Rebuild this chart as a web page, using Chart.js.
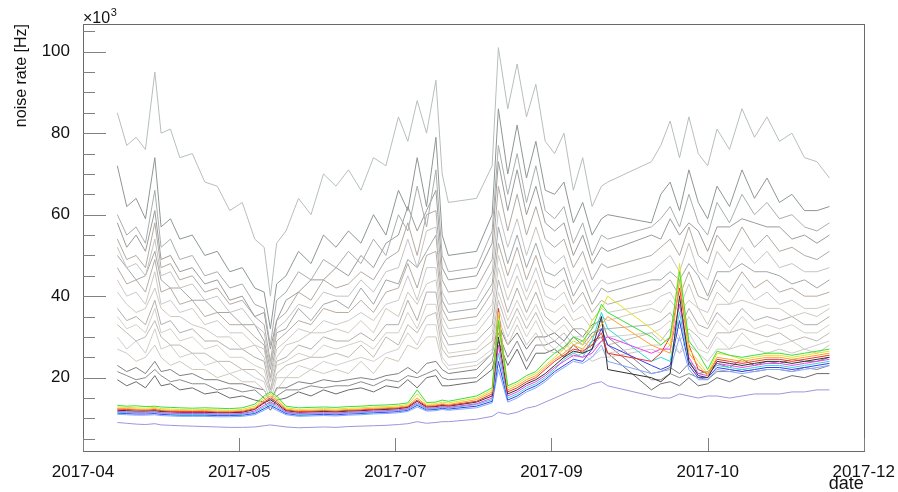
<!DOCTYPE html>
<html>
<head>
<meta charset="utf-8">
<title>noise rate vs date</title>
<script src="https://cdn.jsdelivr.net/npm/chart.js@4"></script>
<style>
  html, body { margin: 0; padding: 0; background: #fff; }
  canvas { display: block; }
</style>
</head>
<body>
<canvas id="c" width="898" height="492"></canvas>
<script>
// Sampling dates (UTC days)
const dates = [
  '2017-04-19','2017-04-22','2017-04-25','2017-04-28','2017-05-01',
  '2017-05-03','2017-05-06','2017-05-09','2017-05-13','2017-05-17',
  '2017-05-21','2017-05-25','2017-05-29','2017-06-02','2017-06-05',
  '2017-06-07','2017-06-09','2017-06-12','2017-06-16','2017-06-20',
  '2017-06-24','2017-06-28','2017-07-02','2017-07-06','2017-07-10',
  '2017-07-14','2017-07-18','2017-07-21','2017-07-24','2017-07-27',
  '2017-07-30','2017-08-01','2017-08-03','2017-08-12','2017-08-17',
  '2017-08-19','2017-08-22','2017-08-25','2017-08-28','2017-08-31',
  '2017-09-03','2017-09-06','2017-09-09','2017-09-12','2017-09-15',
  '2017-09-18','2017-09-21','2017-09-23','2017-10-07','2017-10-10',
  '2017-10-13','2017-10-16','2017-10-19','2017-10-22','2017-10-25',
  '2017-10-28','2017-11-01','2017-11-05','2017-11-09','2017-11-13',
  '2017-11-17','2017-11-21','2017-11-25','2017-11-29','2017-12-03'
];

// Noise rate per channel, in units of 10^3 Hz
const ch01 = [85,77,79,76,95, 80,81,74,75,68, 67,61,63,54,52, 40,53,56,64,60, 70,67,71,66,74, 72,84,78,88,80, 93,70,63,64,72, 101,86,97,84,92, 78,75,80,66,74, 62,67,68,73,77, 83,74,84,75,72, 81,76,86,79,84, 78,80,74,73,69];
const ch02 = [72,62,64,59,74, 57,59,54,55,50, 51,46,47,42,41, 32,43,45,51,48, 55,52,56,53,60, 55,66,61,74,62, 79,55,50,51,60, 86,70,82,69,78, 66,65,68,58,63, 55,59,60,58,65, 68,61,71,63,59, 67,62,71,64,69, 63,65,61,61,62];
const ch03 = [60,55,57,53,66, 52,54,49,50,45, 46,42,43,38,37, 28,39,41,46,44, 49,47,51,48,54, 50,60,56,67,57, 71,50,46,47,56, 77,65,75,63,72, 61,59,62,53,58, 50,55,54,57,59, 62,57,65,58,55, 63,58,65,60,63, 59,60,57,56,58];
const ch04 = [58,52,55,51,61, 49,50,46,47,43, 44,39,40,35,36, 27,34,39,41,44, 44,47,45,50,47, 53,55,62,56,61, 66,47,44,45,53, 73,61,71,60,67, 58,56,58,50,55, 48,52,51,55,54, 59,55,58,56,51, 57,57,59,58,57, 57,54,55,53,55];
const ch05 = [54,49,50,47,58, 47,48,44,45,41, 42,38,39,35,33, 24,34,36,41,39, 44,42,43,46,44, 49,51,58,50,60, 61,44,41,42,49, 67,56,65,55,62, 54,52,54,47,51, 44,48,47,50,52, 54,50,57,50,48, 55,51,57,52,55, 51,52,50,49,51];
const ch06 = [52,47,48,45,54, 45,46,42,43,39, 40,36,37,33,31, 23,32,34,38,37, 41,40,40,44,41, 46,47,54,47,56, 57,41,38,39,46, 61,52,59,50,57, 50,48,50,43,47, 41,44,43,46,48, 50,46,53,46,44, 51,47,52,48,51, 47,48,46,46,47];
const ch07 = [50,47,44,45,51, 44,42,42,39,39, 36,36,33,33,29, 22,31,32,37,34, 38,39,37,42,38, 44,43,49,47,51, 55,39,36,37,43, 57,48,55,47,53, 46,45,47,40,44, 38,42,41,44,44, 46,44,48,45,40, 46,46,48,46,46, 45,43,44,42,44];
const ch08 = [47,43,44,41,49, 41,42,38,39,35, 36,33,33,30,28, 20,29,31,34,33, 37,36,36,39,36, 41,42,48,42,50, 51,37,34,35,41, 53,45,52,44,50, 43,42,44,38,41, 36,39,38,41,42, 44,40,46,40,39, 44,41,46,42,44, 41,42,40,40,41];
const ch09 = [44,40,41,38,46, 38,39,36,37,33, 34,31,31,28,27, 19,27,29,32,31, 34,33,34,36,34, 38,39,45,39,47, 47,35,32,33,38, 50,42,48,41,47, 40,39,41,36,38, 34,37,36,38,40, 41,37,43,37,36, 41,38,43,39,41, 38,39,37,37,38];
const ch10 = [41,38,36,37,42, 37,35,35,33,32, 30,30,27,28,25, 19,25,28,29,31, 31,32,31,34,31, 37,35,41,38,43, 44,33,30,31,36, 47,39,45,39,44, 37,36,38,34,35, 32,35,34,37,36, 39,36,39,37,33, 38,38,39,38,37, 37,35,36,35,37];
const ch11 = [37,34,35,33,39, 33,34,31,32,29, 29,27,27,25,24, 17,24,25,28,27, 30,29,29,31,29, 33,33,39,34,41, 41,31,28,29,33, 44,36,42,36,41, 35,33,35,32,32, 30,32,32,33,34, 36,32,37,33,32, 36,33,37,34,35, 34,35,33,33,35];
const ch12 = [35,32,33,31,37, 31,32,29,30,27, 28,25,25,23,22, 16,23,24,26,25, 28,27,28,29,27, 31,31,36,32,38, 38,29,26,27,31, 41,34,39,34,38, 33,31,33,30,30, 28,30,30,31,32, 34,30,35,31,30, 34,31,35,32,33, 32,33,31,31,33];
const ch13 = [33,31,29,30,34, 30,28,28,26,26, 24,24,22,22,20, 16,21,23,24,25, 25,26,25,28,25, 30,28,33,31,35, 36,27,25,26,29, 39,32,37,32,36, 31,29,31,28,29, 27,29,28,31,29, 32,29,32,30,27, 31,31,32,31,30, 31,29,30,29,31];
const ch14 = [30,27,29,26,32, 27,28,25,26,23, 24,21,22,20,19, 14,20,20,23,22, 24,23,24,25,24, 26,27,31,28,33, 33,25,23,24,27, 37,30,35,30,34, 29,27,29,26,27, 25,27,26,28,28, 30,26,31,27,26, 30,27,31,28,29, 28,29,27,28,29];
const ch15 = [27,26,24,25,28, 25,23,24,22,22, 20,21,19,19,17, 14,17,20,20,22, 21,22,21,24,21, 25,24,28,27,30, 30,24,22,23,26, 35,28,33,28,31, 27,26,27,25,26, 24,25,25,27,26, 28,26,28,26,24, 27,27,28,27,26, 27,26,27,26,28];
const ch16 = [23,21.5,22.5,21,24, 21.5,22,20.5,21,19.5, 19.5,18.5,18.5,17.5,17, 14,17.5,17.5,19,18.5, 19.5,19,19.5,20,19.5, 20.5,21,22.5,21,23.5, 24,22,21,22,26, 33,28,31,27,30, 30,31,29,32,30, 33,34,30,21,21.5, 22.5,21,23.5,21,21.5, 23.5,22.5,24.5,23,24, 23.5,24.5,24,24,25];
const ch17 = [21.5,20.5,19.5,20,22, 20.5,19,19.5,18.5,18.5, 17,17.5,16.5,17,15, 13.5,15.5,17,17,18, 17.5,18,18,19,18, 19.5,19,20.5,20,21, 22,20,19.5,20,24, 31,25,29,24,28, 28,29,27,30,28, 31,32,28,19.5,19.5, 21,20,21,20,19.5, 21.5,21.5,22,21.5,22, 22,21.5,22.5,22,23];
const ch18 = [19.5,18,19,17.5,20.5, 18,18.5,17,17.5,16, 16.5,15,15.5,14.5,14, 12,14.5,15,16.5,15.5, 17,16,17,17.5,16.5, 18,17.5,19.5,17.5,20, 20.5,18,18,19,22, 29,23,27,22,26, 26,27,25,28,26, 29,30,26,17,18.5, 19,18,20,18,18.5, 20,19,20.5,19.5,20.5, 19.5,20.5,20,21,21];
const ch19 = [13.2,13.0,13.1,12.9,13.0, 12.8,12.7,12.6,12.5,12.6, 12.5,12.4,12.6,13.5,15.5, 16.5,15.5,13.0,12.6,12.7, 12.8,12.7,12.9,13.0,13.2, 13.3,13.5,13.8,17.0,13.9, 14.0,14.5,14.2,15.5,17.5, 34.0,18.0,19.0,20.5,21.5, 24.0,26.0,27.5,30.0,29.0, 32.0,38.0,36.0,30.0,28.0, 30.0,46.0,29.0,26.0,22.0, 26.5,25.5,25.0,25.5,26.0, 26.0,25.5,26.0,26.5,27.0];
const ch20 = [12.8,12.7,12.6,12.5,12.7, 12.4,12.3,12.2,12.1,12.2, 12.1,12.0,12.2,13.0,15.0, 16.0,15.0,12.6,12.2,12.3, 12.4,12.3,12.5,12.6,12.8, 12.9,13.1,13.4,16.0,13.5, 13.6,14.0,13.8,15.0,17.0, 36.0,17.5,18.5,20.0,21.0, 23.0,25.0,27.0,29.0,28.0, 34.0,37.0,40.0,32.0,30.0, 28.0,48.0,27.0,24.0,21.0, 26.0,25.5,24.5,25.0,25.5, 25.5,25.0,25.5,26.0,26.5];
const ch21 = [12.5,12.4,12.3,12.2,12.4, 12.1,12.0,11.9,11.9,11.9, 11.8,11.8,11.9,12.6,14.5, 15.5,14.5,12.3,11.9,12.0, 12.1,12.0,12.2,12.3,12.5, 12.6,12.8,13.1,15.0,13.2, 13.3,13.6,13.4,14.6,16.5, 33.0,17.0,18.0,19.5,20.5, 22.5,24.5,26.0,28.0,27.0, 30.0,33.0,35.0,28.0,27.0, 26.0,44.0,26.0,23.0,20.5, 25.0,24.5,24.0,24.5,25.0, 25.0,24.5,25.0,25.5,26.0];
const ch22 = [12.3,12.2,12.1,12.0,12.2, 11.9,11.8,11.7,11.7,11.7, 11.6,11.6,11.7,12.4,14.0, 15.0,14.0,12.1,11.7,11.8, 11.9,11.8,12.0,12.1,12.3, 12.4,12.6,12.9,14.5,13.0, 13.1,13.4,13.2,14.2,16.0, 37.0,16.5,17.5,19.0,20.0, 22.0,24.0,25.5,27.0,26.5, 28.0,31.0,26.0,24.0,26.0, 30.0,42.0,28.0,22.0,21.0, 24.5,24.0,23.5,24.0,24.5, 24.5,24.0,24.5,25.0,25.5];
const ch23 = [12.0,11.9,11.8,11.8,11.9, 11.7,11.6,11.5,11.5,11.5, 11.4,11.4,11.5,12.2,13.8, 14.6,13.6,11.9,11.5,11.6, 11.7,11.6,11.8,11.9,12.1, 12.2,12.4,12.7,14.2,12.8, 12.9,13.2,13.0,14.0,15.5, 30.0,16.0,17.0,18.5,19.5, 21.0,23.0,25.0,26.5,26.0, 27.0,35.0,22.0,20.0,19.0, 21.0,40.0,24.0,20.5,20.0, 24.0,23.5,23.0,23.5,24.0, 24.0,23.5,24.0,24.5,25.0];
const ch24 = [11.7,11.6,11.5,11.5,11.6, 11.4,11.3,11.2,11.2,11.2, 11.1,11.1,11.2,11.8,13.2, 14.0,13.2,11.6,11.2,11.3, 11.4,11.3,11.5,11.6,11.8, 11.9,12.1,12.4,13.8,12.5, 12.6,12.9,12.7,13.6,15.0, 28.0,15.5,16.5,18.0,19.0, 20.5,22.5,24.0,25.5,25.0, 26.0,29.0,30.0,26.0,27.0, 27.0,38.0,25.0,21.0,20.5, 23.5,23.0,22.5,23.0,23.5, 23.5,23.0,23.5,24.0,24.5];
const ch25 = [11.5,11.4,11.3,11.3,11.4, 11.2,11.1,11.0,11.0,11.0, 10.9,10.9,11.0,11.5,12.8, 13.6,12.8,11.4,11.0,11.1, 11.2,11.1,11.3,11.4,11.6, 11.7,11.9,12.2,13.5,12.3, 12.4,12.7,12.5,13.4,14.6, 26.0,15.0,16.0,17.5,18.5, 20.0,22.0,24.5,26.0,25.0, 29.0,36.0,32.0,24.0,25.0, 24.0,36.0,24.0,22.0,21.0, 23.0,22.5,22.0,22.5,23.0, 23.0,22.5,23.0,23.5,24.0];
const ch26 = [11.3,11.2,11.1,11.1,11.2, 11.0,10.9,10.8,10.8,10.8, 10.7,10.7,10.8,11.2,12.4, 13.2,12.4,11.2,10.8,10.9, 11.0,10.9,11.1,11.2,11.4, 11.5,11.7,12.0,13.2,12.1, 12.2,12.5,12.3,13.0,14.2, 24.0,14.5,15.5,17.0,18.0, 19.5,21.5,23.0,24.5,24.0, 27.0,32.0,28.0,23.0,22.0, 23.0,34.0,23.0,20.0,20.0, 22.5,22.0,21.5,22.0,22.5, 22.5,22.0,22.5,23.0,23.5];
const ch27 = [11.0,10.9,10.8,10.8,10.9, 10.7,10.6,10.5,10.5,10.5, 10.4,10.4,10.5,10.9,12.0, 12.8,12.0,10.9,10.5,10.6, 10.7,10.6,10.8,10.9,11.1, 11.2,11.4,11.7,12.8,11.8, 11.9,12.2,12.0,12.6,13.8, 22.0,14.0,15.0,16.5,17.5, 19.0,21.0,22.5,24.0,23.5, 25.0,28.0,24.0,21.0,21.5, 22.0,30.0,22.0,19.5,19.5, 22.0,21.5,21.0,21.5,22.0, 22.0,21.5,22.0,22.5,23.0];
const ch28 = [9.0,8.8,8.6,8.5,8.7, 8.4,8.3,8.2,8.1,8.0, 7.9,7.8,7.8,7.9,8.2, 8.4,8.2,7.9,7.7,7.8, 7.9,7.8,8.0,8.1,8.2, 8.3,8.5,8.7,9.2,8.8, 9.0,9.2,9.2,9.8,10.5, 11.5,11.0,11.5,12.5,13.0, 14.0,15.0,16.0,17.0,17.5, 18.5,19.0,18.0,15.5,15.0, 15.0,16.0,15.5,15.0,15.5, 15.5,15.0,15.5,16.0,16.0, 16.0,16.5,16.5,17.0,17.0];

// Axis labelling
const xTickLabels = ['2017-04', '2017-05', '2017-07', '2017-09', '2017-10', '2017-12'];
const xAxisStart = '2017-04-08';
const xTickStepDays = 50;
const yMajorStep = 20;
const yMinorStep = 5;

const DAY = 86400000;
const toMs = s => Date.parse(s + 'T00:00:00Z');
const xMin = toMs(xAxisStart);
const xMax = xMin + xTickStepDays * (xTickLabels.length - 1) * DAY;

const lowChannels = [
  [ch19, '#3ade3a'], [ch20, '#e2e22a'], [ch21, '#ffa22a'], [ch22, '#ee3030'],
  [ch23, '#303030'], [ch24, '#ee40ee'], [ch25, '#30d8d8'], [ch26, '#3a3aee'],
  [ch27, '#7fa8ff'], [ch28, '#9a96dc']
];
const highChannels = [
  [ch01, '#b6bebe'], [ch02, '#8e9696'], [ch03, '#a8aeae'], [ch04, '#9c9c9c'],
  [ch05, '#b3aaa2'], [ch06, '#c4c4c4'], [ch07, '#a2a8a8'], [ch08, '#b8aca2'],
  [ch09, '#cacaca'], [ch10, '#d0c8be'], [ch11, '#b0b0b0'], [ch12, '#d4cfc6'],
  [ch13, '#c0bab2'], [ch14, '#cfcfcf'], [ch15, '#d0c8be'], [ch16, '#808080'],
  [ch17, '#8c8c8c'], [ch18, '#6c6c6c']
];

const mkSet = ([vals, color]) => ({
  data: vals.map((v, i) => ({ x: toMs(dates[i]), y: v })),
  borderColor: color,
  borderWidth: 1,
  pointRadius: 0,
  tension: 0,
  fill: false
});

const FONT = "'Liberation Sans', Arial, Helvetica, sans-serif";
Chart.defaults.font.family = FONT;
Chart.defaults.color = '#111';

// Box frame, inward tick marks and the axis exponent
const frameAndTicks = {
  id: 'frameAndTicks',
  afterDatasetsDraw(chart) {
    const { ctx, chartArea: a, scales: { x, y } } = chart;
    ctx.save();
    ctx.lineWidth = 1;
    ctx.strokeStyle = '#6a6a6a';
    ctx.strokeRect(Math.round(a.left) + 0.5, Math.round(a.top) + 0.5,
                   Math.round(a.right - a.left), Math.round(a.bottom - a.top));
    ctx.strokeStyle = '#808080';
    ctx.beginPath();
    for (let v = Math.ceil(y.min / yMinorStep) * yMinorStep; v <= y.max; v += yMinorStep) {
      const py = Math.round(y.getPixelForValue(v)) + 0.5;
      const len = v % yMajorStep === 0 ? 23 : 12;
      ctx.moveTo(a.left, py);
      ctx.lineTo(a.left + len, py);
    }
    x.ticks.forEach(t => {
      const px = Math.round(x.getPixelForValue(t.value)) + 0.5;
      ctx.moveTo(px, a.bottom);
      ctx.lineTo(px, a.bottom - 13);
    });
    ctx.stroke();
    ctx.fillStyle = '#111';
    ctx.textBaseline = 'alphabetic';
    ctx.textAlign = 'left';
    ctx.font = '16px ' + FONT;
    const base = '\u00d710';
    ctx.fillText(base, a.left, a.top - 1);
    const w = ctx.measureText(base).width;
    ctx.font = '11px ' + FONT;
    ctx.fillText('3', a.left + w + 0.5, a.top - 8);
    ctx.restore();
  }
};

new Chart(document.getElementById('c'), {
  type: 'line',
  data: { datasets: [...lowChannels.map(mkSet), ...highChannels.map(mkSet)] },
  options: {
    responsive: false,
    animation: false,
    layout: { padding: { left: 0, right: 33, top: 24, bottom: 0 } },
    plugins: { legend: { display: false }, tooltip: { enabled: false }, title: { display: false } },
    scales: {
      x: {
        type: 'linear',
        min: xMin,
        max: xMax,
        afterBuildTicks: s => { s.ticks = xTickLabels.map((_, k) => ({ value: xMin + k * xTickStepDays * DAY })); },
        afterFit: s => { s.height = 41; },
        ticks: {
          callback: (v, i) => xTickLabels[i],
          font: { size: 17 },
          color: '#111',
          padding: 3,
          maxRotation: 0,
          autoSkip: false
        },
        grid: { display: false },
        border: { display: false },
        title: { display: true, text: 'date', align: 'end', font: { size: 18 }, color: '#111', padding: { top: 0, bottom: -3 } }
      },
      y: {
        type: 'linear',
        min: 2.0,
        max: 106.8,
        afterFit: s => { s.width = 83; },
        ticks: { stepSize: yMajorStep, includeBounds: false, font: { size: 17 }, color: '#111', padding: 5 },
        grid: { display: false },
        border: { display: false },
        title: { display: true, text: 'noise rate [Hz]', align: 'end', font: { size: 16 }, color: '#111', padding: { top: 12, bottom: 0 } }
      }
    }
  },
  plugins: [frameAndTicks]
});
</script>
</body>
</html>
